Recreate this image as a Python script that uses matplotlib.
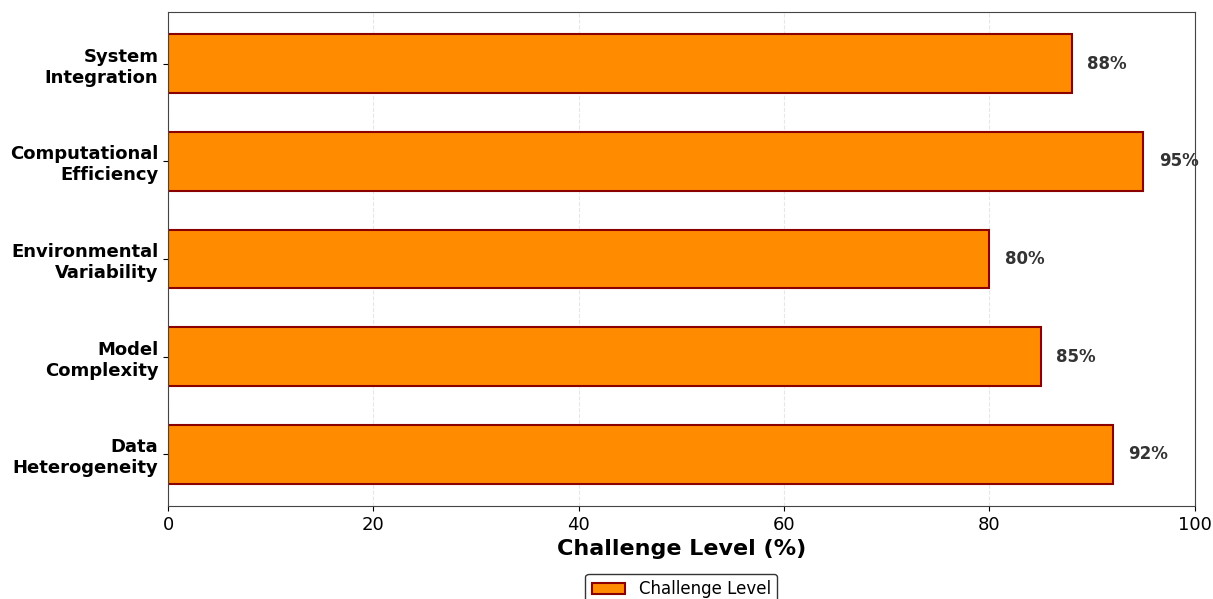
import matplotlib.pyplot as plt

challenges = ['Data\nHeterogeneity', 'Model\nComplexity', 'Environmental\nVariability',
              'Computational\nEfficiency', 'System\nIntegration']
levels = [92, 85, 80, 95, 88]

fig, ax = plt.subplots(figsize=(12.13, 5.99), dpi=100)

bars = ax.barh(challenges, levels, height=0.6, color='#FF8C00',
               edgecolor='#8B0000', linewidth=1.5, label='Challenge Level')

# value labels to the right of each bar
for bar, val in zip(bars, levels):
    ax.text(bar.get_width() + 1.5, bar.get_y() + bar.get_height() / 2, f'{val}%',
            va='center', ha='left', fontsize=12, fontweight='bold', color='#333333')

ax.set_xlim(0, 100)
ax.set_xlabel('Challenge Level (%)', fontsize=16, fontweight='bold')
ax.tick_params(axis='x', labelsize=13)
ax.tick_params(axis='y', labelsize=13)
for lbl in ax.get_yticklabels():
    lbl.set_fontweight('bold')

ax.grid(axis='x', linestyle='--', alpha=0.3)
ax.set_axisbelow(True)
for spine in ax.spines.values():
    spine.set_color('#444444')

ax.legend(loc='upper center', bbox_to_anchor=(0.5, -0.12), fontsize=12, frameon=True,
          edgecolor='black')

fig.subplots_adjust(left=0.1385, right=0.985, top=0.98, bottom=0.155)
fig.savefig('out.png')
